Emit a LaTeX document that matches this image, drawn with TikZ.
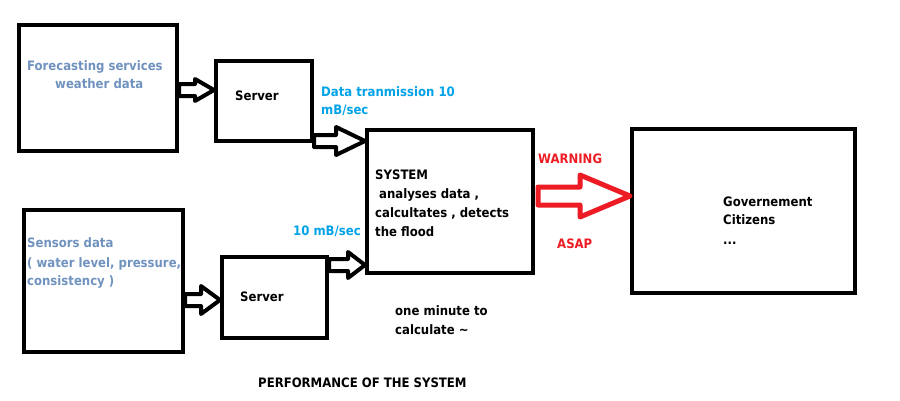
\documentclass[tikz,border=0pt]{standalone}
\usepackage{fontspec}
\setmainfont{DejaVu Sans Condensed}
\usepackage{tikz}
\usetikzlibrary{calc}

\definecolor{paintgrey}{RGB}{112,146,190}
\definecolor{paintblue}{RGB}{0,162,232}
\definecolor{paintred}{RGB}{237,28,36}

% hollow block arrow: [colour]{start}{tip}{shaft half}{head half}{head length}
\newcommand{\hollowarrow}[6][black]{%
\draw[flow, draw=#1] ($(#2)+(0,#4)$)--($(#3)+(-#6,#4)$)--($(#3)+(-#6,#5)$)--(#3)--($(#3)+(-#6,-#5)$)--($(#3)+(-#6,-#4)$)--($(#2)+(0,-#4)$)--cycle;}

\begin{document}
\begin{tikzpicture}[x=1pt, y=-1pt,
	box/.style={draw, line width=4, inner sep=0},
	flow/.style={line width=4, line join=round},
	lbl/.style={anchor=base west, inner sep=0, font=\bfseries\fontsize{13}{15}\selectfont}]

\useasboundingbox (0,0) rectangle (900,400);

\node[box, minimum width=158, minimum height=126] (fcst) at (98,88) {};
\node[box, minimum width=96,  minimum height=80]  (srvA) at (264,101) {};
\node[box, minimum width=166, minimum height=143] (sys)  at (450,201.5) {};
\node[box, minimum width=159, minimum height=142] (sens) at (103.5,281) {};
\node[box, minimum width=105, minimum height=81]  (srvB) at (274.5,297.5) {};
\node[box, minimum width=223, minimum height=164] (gov)  at (743.5,211) {};

\coordinate (a1) at ($(fcst.east)+(0,2)$);
\coordinate (a2) at ($(srvA.south east)+(0,-2)$);
\coordinate (a3) at ($(srvB.north east)+(0,10)$);
\coordinate (a4) at ($(sens.east)+(0,19)$);
\coordinate (a5) at ($(sys.east)+(3,-5.5)$);

\hollowarrow{a1}{a1 -| srvA.west}{6}{11}{19}
\hollowarrow{a2}{a2 -| sys.west}{6}{14}{29}
\hollowarrow{a3}{a3 -| sys.west}{6}{13}{17}
\hollowarrow{a4}{a4 -| srvB.west}{6}{14}{19}
\begin{scope}[flow/.append style={line width=5}]
\hollowarrow[paintred]{a5}{a5 -| gov.west}{9}{21}{50}
\end{scope}

\node[lbl, paintgrey] (fcstA) at (27,70) {Forecasting services};
\node[lbl, paintgrey] (fcstB) at (55,88) {weather data};
\node[lbl] (srvAtxt) at (235,100) {Server};
\node[lbl, paintblue] (rateA) at (321,96) {Data tranmission 10};
\node[lbl, paintblue] (rateB) at (321,114) {mB/sec};

\node[lbl] (sysA) at (375,179) {SYSTEM};
\node[lbl] (sysB) at (379,198) {analyses data ,};
\node[lbl] (sysC) at (375,217) {calcultates , detects};
\node[lbl] (sysD) at (375,236) {the flood};
\node[lbl, paintblue] (rateC) at (293,235) {10 mB/sec};

\node[lbl, paintgrey] (sensA) at (27,247) {Sensors data};
\node[lbl, paintgrey] (sensB) at (27,267) {( water level, pressure,};
\node[lbl, paintgrey] (sensC) at (27,285) {consistency )};
\node[lbl] (srvBtxt) at (240,301) {Server};

\node[lbl] (timeA) at (395,315) {one minute to};
\node[lbl] (timeB) at (395,334) {calculate \textasciitilde};
\node[lbl] (perf) at (258,387) {PERFORMANCE OF THE SYSTEM};

\node[lbl, paintred] (warn) at (538,163) {WARNING};
\node[lbl, paintred] (asap) at (557,248) {ASAP};
\node[lbl] (govA) at (723,206) {Governement};
\node[lbl] (govB) at (723,224) {Citizens};
\node[lbl] (govC) at (723,244) {...};

\end{tikzpicture}
\end{document}
